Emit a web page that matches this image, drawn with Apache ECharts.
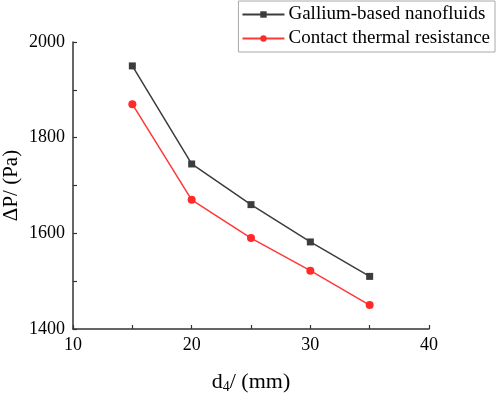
<!DOCTYPE html>
<html><head><meta charset="utf-8">
<script src="https://cdn.jsdelivr.net/npm/echarts@6/dist/echarts.min.js"></script>
<style>html,body{margin:0;padding:0;background:#fff}#c{width:498px;height:393px}</style>
</head><body><div id="c"></div>
<script>
const xValues = [15, 20, 25, 30, 35];
const galliumValues = [1950, 1745, 1660, 1582, 1510];
const contactValues = [1870, 1670, 1590, 1522, 1450];
const seriesNames = ['Gallium-based nanofluids', 'Contact thermal resistance'];
const xLabelStep = 10;
const yLabelStep = 200;
const font = "'Liberation Serif', 'Times New Roman', serif";
const chart = echarts.init(document.getElementById('c'));
chart.setOption({
  animation: false,
  backgroundColor: '#fff',
  grid: {left: 73, right: 69, top: 42, bottom: 64, outerBoundsMode: 'none', containLabel: false},
  legend: {
    top: 1, right: 3, orient: 'vertical',
    borderColor: '#aaa', borderWidth: 1, padding: [4, 5, 4, 3],
    itemWidth: 42, itemHeight: 8, itemGap: 5,
    textStyle: {fontFamily: font, fontSize: 19, color: '#000', padding: [0, 0, 0, -1]},
    data: seriesNames
  },
  xAxis: {
    type: 'value', min: 10, max: 40, interval: 5,
    name: '{a|d}{s|4}{a|/ (mm)}', nameLocation: 'middle', nameGap: 42,
    nameTextStyle: {rich: {a: {fontFamily: font, fontSize: 22, color: '#000'}, s: {fontFamily: font, fontSize: 14, color: '#000', verticalAlign: 'bottom', padding: [9, 0, 0, 0]}}},
    axisLine: {lineStyle: {color: '#333', width: 1.5}},
    axisTick: {inside: true, length: 4, lineStyle: {color: '#333', width: 1.2}},
    axisLabel: {fontFamily: font, fontSize: 18, color: '#000', margin: 7,
      formatter: v => (v % xLabelStep === 0 ? String(v) : '')},
    splitLine: {show: false}
  },
  yAxis: {
    type: 'value', min: 1400, max: 2000, interval: 100,
    name: 'ΔP/ (Pa)', nameLocation: 'middle', nameGap: 51, nameRotate: 90, nameMoveOverlap: false,
    nameTextStyle: {fontFamily: font, fontSize: 21, color: '#000'},
    axisLine: {show: true, lineStyle: {color: '#333', width: 1.5}},
    axisTick: {show: true, inside: true, length: 4, lineStyle: {color: '#333', width: 1.2}},
    axisLabel: {fontFamily: font, fontSize: 18, color: '#000', margin: 8,
      formatter: v => (v % yLabelStep === 0 ? String(v) : '')},
    splitLine: {show: false}
  },
  series: [
    {name: seriesNames[0], type: 'line', data: xValues.map((x, i) => [x, galliumValues[i]]),
     symbol: 'rect', symbolSize: 7, itemStyle: {color: '#3c3c3c'}, lineStyle: {color: '#3c3c3c', width: 1.5}},
    {name: seriesNames[1], type: 'line', data: xValues.map((x, i) => [x, contactValues[i]]),
     symbol: 'circle', symbolSize: 8, itemStyle: {color: '#ff2a2a'}, lineStyle: {color: '#ff3838', width: 1.5}}
  ]
});
</script></body></html>
